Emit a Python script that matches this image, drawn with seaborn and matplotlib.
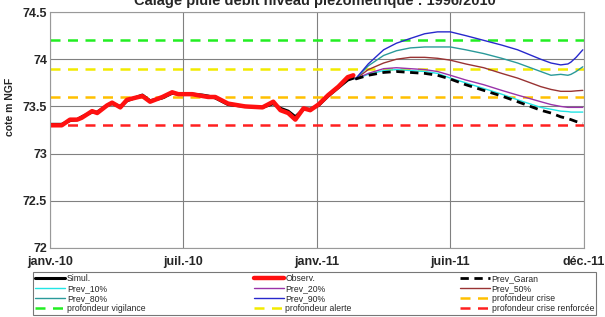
import seaborn as sns
import numpy as np
import pandas as pd
import matplotlib.pyplot as plt

# x axis = weeks since janv.-10
tick_pos = [0, 26, 52, 78, 104]
tick_labels = ['janv.-10', 'juil.-10', 'janv.-11', 'juin-11', 'déc.-11']

obs_x = [0, 1, 2.3, 3.9, 5.3, 6.2, 8.2, 9.2, 11.1, 12.1, 13.7, 15, 18, 19.5, 21.9, 23.8, 25,
         27.7, 29.7, 30.8, 32.2, 34.7, 38, 41.4, 43.5, 44.9, 46.4, 47.8, 49.4, 50.7, 52.3,
         54.2, 56.2, 58, 59.1]
obs_y = [73.30, 73.30, 73.30, 73.36, 73.36, 73.38, 73.45, 73.43, 73.51, 73.54, 73.49, 73.57,
         73.61, 73.55, 73.60, 73.65, 73.63, 73.63, 73.61, 73.60, 73.60, 73.53, 73.50, 73.49,
         73.55, 73.46, 73.43, 73.36, 73.48, 73.46, 73.52, 73.62, 73.71, 73.81, 73.83]
sim_y = [73.31, 73.31, 73.31, 73.35, 73.36, 73.39, 73.44, 73.44, 73.51, 73.53, 73.50, 73.56,
         73.62, 73.56, 73.59, 73.64, 73.63, 73.63, 73.62, 73.61, 73.59, 73.52, 73.50, 73.49,
         73.53, 73.48, 73.45, 73.39, 73.47, 73.47, 73.51, 73.61, 73.70, 73.78, 73.80]

prev_x = [59.5, 62, 65, 67.5, 70.2, 73, 75.5, 78, 81, 84.5, 88, 91.1, 95.6, 97.6, 99.5,
          100.9, 101.5, 102.5, 103.8]
prev_garan = [73.79, 73.83, 73.86, 73.87, 73.86, 73.85, 73.83, 73.79, 73.73, 73.67, 73.61,
              73.55, 73.46, 73.43, 73.39, 73.37, 73.36, 73.34, 73.32]
prev_10 = [73.79, 73.84, 73.88, 73.89, 73.88, 73.87, 73.85, 73.80, 73.75, 73.69, 73.63,
           73.57, 73.49, 73.47, 73.45, 73.445, 73.44, 73.44, 73.44]
prev_20 = [73.79, 73.85, 73.90, 73.91, 73.90, 73.89, 73.87, 73.83, 73.78, 73.73, 73.67,
           73.62, 73.55, 73.52, 73.50, 73.49, 73.49, 73.49, 73.49]
prev_50 = [73.79, 73.89, 73.96, 74.00, 74.02, 74.02, 74.01, 73.99, 73.95, 73.91, 73.85,
           73.80, 73.71, 73.68, 73.66, 73.66, 73.66, 73.665, 73.67]
prev_80 = [73.79, 73.93, 74.04, 74.09, 74.12, 74.13, 74.13, 74.13, 74.10, 74.06, 74.01,
           73.96, 73.87, 73.83, 73.84, 73.83, 73.84, 73.87, 73.92]
prev_90 = [73.79, 73.95, 74.10, 74.17, 74.22, 74.27, 74.29, 74.29, 74.25, 74.20, 74.15,
           74.10, 74.00, 73.96, 73.94, 73.95, 73.97, 74.02, 74.10]

sns.set_style('white')
plt.rcParams['font.family'] = ['Liberation Sans', 'DejaVu Sans']

fig = plt.figure(figsize=(6.05, 3.17), dpi=100)
ax = fig.add_axes([0.0826, 0.2177, 0.8824, 0.7443])

h = {}
for name, val, col in [('profondeur vigilance', 74.2, '#22ee22'),
                       ('profondeur alerte', 73.9, '#f2ea00'),
                       ('profondeur crise', 73.6, '#ffc000'),
                       ('profondeur crise renforcée', 73.3, '#ff2020')]:
    h[name] = ax.axhline(val, color=col, lw=1.8, ls=(0, (4, 3)))

sns.lineplot(x=obs_x, y=sim_y, color='black', lw=2.2, ax=ax)
sns.lineplot(x=obs_x, y=obs_y, color='#ff1010', lw=3.2, ax=ax)
series = [('Prev_10%', prev_10, '#22e5e5'), ('Prev_20%', prev_20, '#9933aa'),
          ('Prev_50%', prev_50, '#993333'), ('Prev_80%', prev_80, '#2a9a9a'),
          ('Prev_90%', prev_90, '#2828cc')]
for name, vals, col in series:
    sns.lineplot(x=prev_x, y=vals, color=col, lw=1.0, ax=ax)
sns.lineplot(x=prev_x, y=prev_garan, color='black', lw=2.0, ax=ax)
ax.lines[-1].set_linestyle((0, (3, 2)))

lines = ax.lines
h['Simul.'] = lines[4]
h['Observ.'] = lines[5]
for i, (name, _, _) in enumerate(series):
    h[name] = lines[6 + i]
h['Prev_Garan'] = lines[11]

ax.set_xlim(0, 104)
ax.set_ylim(72, 74.5)
ax.set_xticks(tick_pos)
ax.set_xticklabels(tick_labels, fontsize=9, fontweight='bold')
ax.set_yticks([72, 72.5, 73, 73.5, 74, 74.5])
ax.set_yticklabels(['72', '72.5', '73', '73.5', '74', '74.5'], fontsize=9, fontweight='bold')
ax.tick_params(length=4, direction='in', pad=2, color='#555555')
ax.tick_params(axis='x', direction='out', length=4)
ax.grid(True, color='#808080', lw=0.8)
ax.set_axisbelow(True)
for s in ax.spines.values():
    s.set_color('#999999')
ax.set_ylabel('cote m NGF', fontsize=7.5, fontweight='bold', labelpad=2)
ax.yaxis.set_label_coords(-0.065, 0.6)

fig.text(0.52, 0.998, 'Calage pluie débit niveau piézométrique : 1996/2010',
         ha='center', va='center', fontsize=10.5, fontweight='bold')

order = ['Simul.', 'Prev_10%', 'Prev_80%', 'profondeur vigilance',
         'Observ.', 'Prev_20%', 'Prev_90%', 'profondeur alerte',
         'Prev_Garan', 'Prev_50%', 'profondeur crise', 'profondeur crise renforcée']
leg = fig.legend([h[k] for k in order], order, ncol=3, loc='upper left',
                 bbox_to_anchor=(0.055, 0.0, 0.93, 0.142), mode='expand',
                 fontsize=6.2, frameon=True, fancybox=False, edgecolor='#555555',
                 borderpad=0.2, labelspacing=0.12, handlelength=3.5, handletextpad=0.2,
                 columnspacing=1.0, borderaxespad=0.0)
leg.get_frame().set_linewidth(0.8)

fig.savefig('out.png', dpi=100)
